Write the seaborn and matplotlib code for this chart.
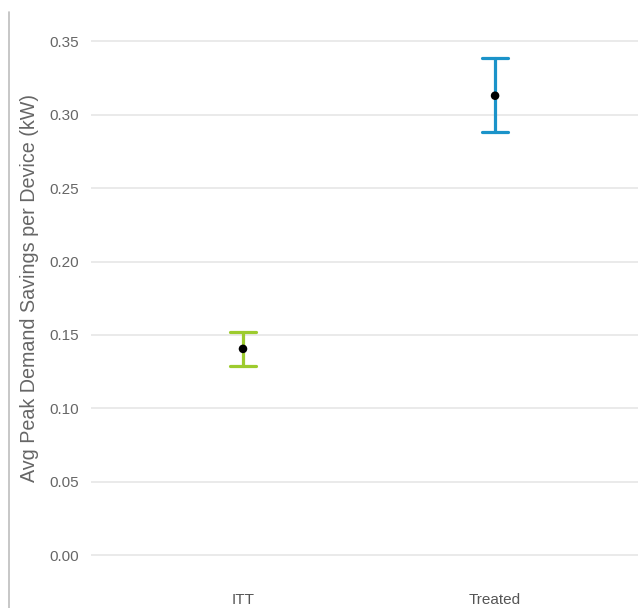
import matplotlib
matplotlib.use("Agg")
import matplotlib.pyplot as plt
import seaborn as sns
import pandas as pd
from matplotlib.lines import Line2D

categories = ["ITT", "Treated"]
means = [0.1405, 0.313]
lower = [0.129, 0.288]
upper = [0.152, 0.339]
colors = ["#9dcb2e", "#1b93c9"]
yticks = [0.00, 0.05, 0.10, 0.15, 0.20, 0.25, 0.30, 0.35]

sns.set_theme(style="white")
plt.rcParams["font.family"] = ["Liberation Sans", "DejaVu Sans"]

# long-form: each category gets lower / mean / upper -> median = mean, 100% interval = CI
rows = []
for c, lo, m, hi in zip(categories, lower, means, upper):
    for v in (lo, m, hi):
        rows.append({"cat": c, "val": v})
df = pd.DataFrame(rows)
df_mean = pd.DataFrame({"cat": categories, "val": means})

W, H = 638, 608
fig = plt.figure(figsize=(W / 100, H / 100), dpi=100)
ax = fig.add_axes([91 / W, 1 - 580 / H, (W - 91) / W, (580 - 15) / H])

sns.pointplot(data=df, x="cat", y="val", hue="cat", palette=colors,
              estimator="median", errorbar=("pi", 100), capsize=0.1,
              err_kws={"linewidth": 2.3}, markersize=0, linestyle="none",
              legend=False, ax=ax, order=categories)
sns.scatterplot(data=df_mean, x="cat", y="val", color="black", s=38,
                edgecolor="none", zorder=5, ax=ax, legend=False)

ax.set_xlim(-0.603, 1.567)
ax.set_ylim(-0.017, 0.368)
ax.set_yticks(yticks)
ax.set_yticklabels([f"{t:.2f}" for t in yticks])
ax.grid(axis="y", color="#e6e6e6", linewidth=1.2)
ax.set_axisbelow(True)
for s in ax.spines.values():
    s.set_visible(False)
ax.tick_params(axis="y", length=0, pad=9, labelsize=11, labelcolor="#666666")
ax.tick_params(axis="x", length=0, pad=9, labelsize=11, labelcolor="#555555")
ax.set_xlabel("")
ax.set_ylabel("Avg Peak Demand Savings per Device (kW)", fontsize=14.2,
              color="#666666")
ax.yaxis.set_label_coords((30 - 91) / (W - 91), (580 - 288) / (580 - 15))
ax.yaxis.label.set_va("center")

fig.add_artist(Line2D([8.5 / W, 8.5 / W], [0, 1 - 12 / H], color="#bdbdbd",
                      linewidth=1.2, transform=fig.transFigure))

fig.savefig("out.png", dpi=100)
